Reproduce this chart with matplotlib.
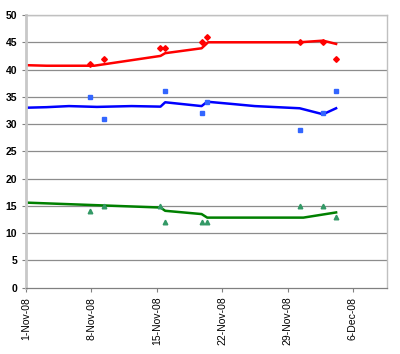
import matplotlib
matplotlib.use("Agg")
import matplotlib.pyplot as plt
import numpy as np

plt.rcParams['font.family'] = ['Liberation Sans', 'DejaVu Sans']

# days since 1-Nov-08
pt_days = [6.9, 8.4, 14.4, 14.9, 18.8, 19.4, 29.3, 31.8, 33.2]
red_pts = [41, 42, 44, 44, 45, 46, 45, 45, 42]
blue_days = [6.9, 8.4, 14.9, 18.8, 19.4, 29.3, 31.8, 33.2]
blue_pts = [35, 31, 36, 32, 34, 29, 32, 36]
green_pts = [14, 15, 15, 12, 12, 12, 15, 15, 13]

# trend lines
red_ld = [0, 2.2, 7.3, 14.4, 14.9, 18.8, 19.5, 24.0, 29.3, 31.8, 33.2]
red_lv = [40.8, 40.7, 40.7, 42.5, 43.0, 43.9, 45.0, 45.0, 45.0, 45.3, 44.7]
blue_ld = [0, 2.2, 4.6, 7.6, 11.3, 14.4, 14.9, 18.8, 19.4, 22.0, 24.5, 29.3, 31.8, 33.2]
blue_lv = [33.0, 33.1, 33.3, 33.15, 33.3, 33.2, 34.0, 33.3, 34.1, 33.7, 33.3, 32.9, 31.8, 32.9]
green_ld = [0, 14.4, 14.9, 18.8, 19.4, 29.7, 33.2]
green_lv = [15.6, 14.7, 14.1, 13.5, 12.85, 12.85, 13.8]

tick_days = [0, 7, 14, 21, 28, 35]
tick_labels = ['1-Nov-08', '8-Nov-08', '15-Nov-08', '22-Nov-08', '29-Nov-08', '6-Dec-08']

fig = plt.figure(figsize=(4.0, 3.54), dpi=100)
ax = fig.add_axes([0.065, 0.1873, 0.9025, 0.7703])

for y in range(5, 55, 5):
    ax.axhline(y, color='#8c8c8c', lw=0.9, zorder=0)

ax.plot(red_ld, red_lv, color='#ff0000', lw=1.8, zorder=2)
ax.plot(blue_ld, blue_lv, color='#0000ff', lw=1.8, zorder=2)
ax.plot(green_ld, green_lv, color='#008000', lw=1.8, zorder=2)

ax.plot(pt_days, red_pts, 'D', color='#ff0000', ms=2.9, ls='none', zorder=3)
ax.plot(blue_days, blue_pts, 's', color='#3366ff', ms=2.4, ls='none', zorder=3)
ax.plot(pt_days, green_pts, '^', color='#339966', ms=3.3, ls='none', zorder=3)

ax.set_xlim(0, 38.65)
ax.set_ylim(0, 50)
ax.set_yticks(range(0, 55, 5))
ax.set_xticks(tick_days)
ax.set_xticklabels(tick_labels, rotation=90)
ax.tick_params(axis='both', labelsize=7.5, colors='#808080', labelcolor='black', length=3, width=0.8)
for lbl in ax.get_yticklabels():
    lbl.set_fontweight('bold')

for s in ['top', 'right']:
    ax.spines[s].set_color('#c0c0c0')
    ax.spines[s].set_linewidth(1.0)
ax.spines['left'].set_color('#c8c8c8')
ax.spines['left'].set_linewidth(2.0)
ax.spines['bottom'].set_color('#808080')
ax.spines['bottom'].set_linewidth(0.9)

fig.savefig('out.png', dpi=100)
